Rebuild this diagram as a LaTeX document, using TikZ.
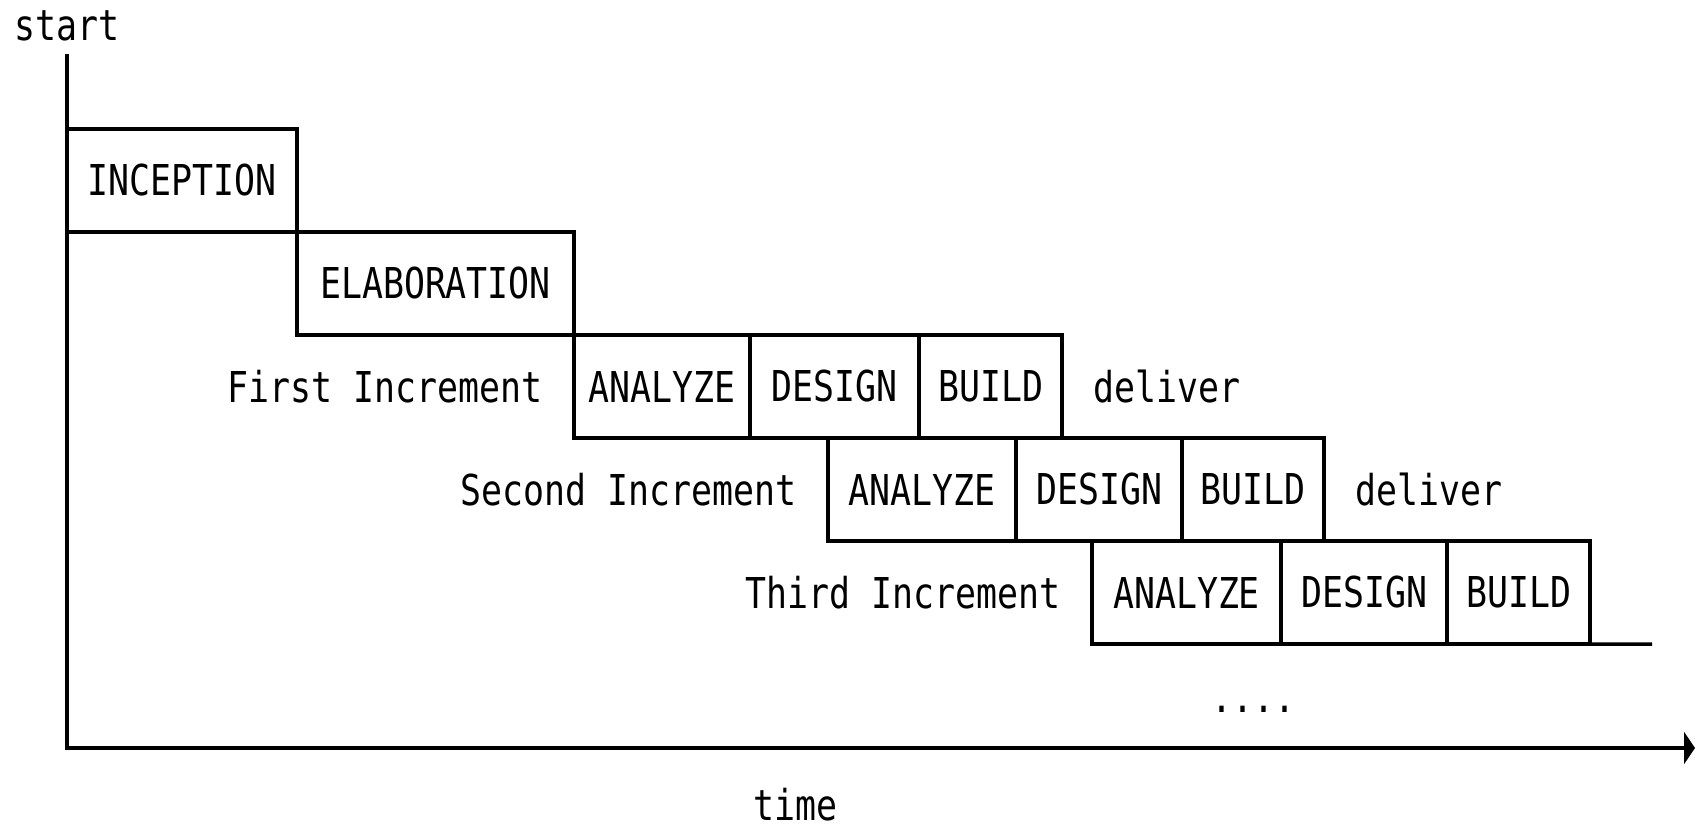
\documentclass[tikz,border=0pt]{standalone}
\usepackage{fontspec}
\newfontfamily\pixfont[FakeStretch=0.82]{DejaVu Sans Mono}
\usetikzlibrary{positioning,arrows.meta}
\tikzset{
  phase/.style={draw, line width=1pt, outer sep=0pt, inner sep=0pt, minimum height=1.03cm},
  tag/.style={inner sep=0pt},
}
\begin{document}
\begin{tikzpicture}[font=\pixfont\fontsize{12.1}{14}\selectfont, line width=1pt]
  \useasboundingbox (0,0) rectangle (17.04,8.25);
% axes
  \coordinate (top) at (0.67,7.71);
  \coordinate (origin) at (0.67,0.77);
  \coordinate (tip) at (16.95,0.77);
  \draw [-{Triangle[length=0.11cm,width=0.32cm]}] (top) -- (origin) -- (tip);
  \node[tag, above=0.11cm of top] (start) {start};
  \node[tag, anchor=base] (time) at (7.955,0.05) {time};

% inception, elaboration
  \node[phase, minimum width=2.30cm, anchor=north west] (inc) at (0.67,6.96) {INCEPTION};
  \node[phase, minimum width=2.77cm, below right=0cm and 0cm of inc] (elab) {ELABORATION};

% first increment
  \node[phase, minimum width=1.76cm, below right=0cm and 0cm of elab] (a1) {ANALYZE};
  \node[phase, minimum width=1.69cm, right=0cm of a1] (d1) {DESIGN};
  \node[phase, minimum width=1.43cm, right=0cm of d1] (b1) {BUILD};
  \node[tag, left=0.3cm of a1] (inc1) {First Increment};
  \node[tag, right=0.3cm of b1] (del1) {deliver};

% second increment
  \node[phase, minimum width=1.88cm, anchor=north west] (a2) at (8.28,3.87) {ANALYZE};
  \node[phase, minimum width=1.66cm, right=0cm of a2] (d2) {DESIGN};
  \node[phase, minimum width=1.42cm, right=0cm of d2] (b2) {BUILD};
  \node[tag, left=0.3cm of a2] (inc2) {Second Increment};
  \node[tag, right=0.3cm of b2] (del2) {deliver};

% third increment
  \node[phase, minimum width=1.89cm, anchor=north west] (a3) at (10.92,2.84) {ANALYZE};
  \node[phase, minimum width=1.66cm, right=0cm of a3] (d3) {DESIGN};
  \node[phase, minimum width=1.43cm, right=0cm of d3] (b3) {BUILD};
  \node[tag, left=0.3cm of a3] (inc3) {Third Increment};
  \coordinate (tail) at (16.52,1.81);
  \draw (b3.south east) -- (tail);

  \node[tag] (more) at (12.53,1.155) {....};
\end{tikzpicture}
\end{document}
